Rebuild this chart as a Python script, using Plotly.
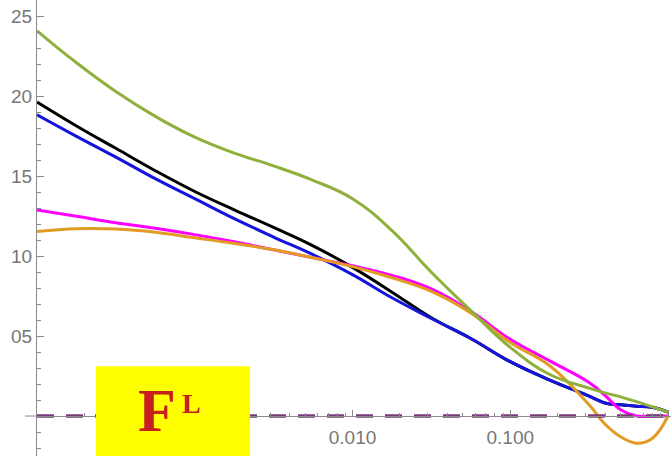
import plotly.graph_objects as go

# x positions (log axis)
X = [0.0001, 0.000178, 0.000316, 0.000562, 0.001, 0.00178, 0.00316, 0.00562,
     0.01, 0.0178, 0.0316, 0.0562, 0.1, 0.178, 0.316, 0.398, 0.501, 0.631, 0.794, 1.0]

green = [24.1, 22.1, 20.3, 18.75, 17.45, 16.45, 15.65, 14.75, 13.6, 11.6, 9.0, 6.6, 4.3, 2.6,
         1.75, 1.45, 1.2, 0.9, 0.58, 0.25]
black = [19.65, 18.15, 16.75, 15.35, 14.05, 12.9, 11.8, 10.65, 9.3, 7.75, 6.15, 4.85, 3.4, 2.25,
         1.25, 0.82, 0.7, 0.62, 0.55, 0.25]
blue = [18.85, 17.5, 16.2, 14.85, 13.6, 12.35, 11.2, 10.1, 8.85, 7.4, 6.1, 4.85, 3.4, 2.25,
        1.25, 0.82, 0.7, 0.62, 0.55, 0.25]
magenta = [12.9, 12.5, 12.1, 11.75, 11.35, 10.9, 10.4, 9.9, 9.4, 8.8, 7.95, 6.55, 4.8, 3.45,
           2.1, 1.3, 0.4, 0.0, 0.0, 0.0]
orange = [11.55, 11.72, 11.7, 11.5, 11.15, 10.8, 10.4, 9.9, 9.35, 8.65, 7.8, 6.45, 4.6, 3.15,
          0.7, -0.5, -1.3, -1.7, -1.4, 0.0]

zero_x = [0.0001, 1.05]
zero_y = [0, 0]

y_ticks = [5, 10, 15, 20, 25]
y_ticktext = ["05", "10", "15", "20", "25"]
x_ticks = [0.01, 0.1, 1]
x_ticktext = ["0.010", "0.100", "1"]

fig = go.Figure()
series = [
    (black, "#000000"),
    (blue, "#1414dc"),
    (magenta, "#ff00ff"),
    (orange, "#e19c24"),
    (green, "#8fb03b"),
]
for ys, col in series:
    fig.add_trace(go.Scatter(x=X, y=ys, mode="lines",
                             line=dict(color=col, width=3, shape="spline", smoothing=1.2),
                             showlegend=False, hoverinfo="skip"))

fig.add_trace(go.Scatter(x=zero_x, y=zero_y, mode="lines",
                         line=dict(color="#7a3a7a", width=3.5, dash="17px,12px"),
                         showlegend=False, hoverinfo="skip"))

y_lo, y_hi = -2.5, 26.03
zero_pos = (0 - y_lo) / (y_hi - y_lo)

axis_grey = "#8a8a8a"
fig.update_layout(
    width=671, height=456,
    margin=dict(l=37, r=0, t=0, b=0),
    paper_bgcolor="white", plot_bgcolor="white",
    xaxis=dict(
        type="log", range=[-4, 0.019],
        anchor="free", position=zero_pos,
        showline=True, linecolor=axis_grey, linewidth=1,
        showgrid=False, zeroline=False,
        tickvals=x_ticks, ticktext=x_ticktext,
        ticks="inside", ticklen=6, tickcolor=axis_grey,
        ticklabelstandoff=4,
        minor=dict(ticks="inside", ticklen=3, tickcolor=axis_grey, dtick="D1", showgrid=False),
        tickfont=dict(family="Liberation Sans", size=19, color="#777777"),
    ),
    yaxis=dict(
        range=[y_lo, y_hi],
        showline=True, linecolor=axis_grey, linewidth=1,
        showgrid=False, zeroline=False,
        tickvals=y_ticks, ticktext=y_ticktext,
        ticks="inside", ticklen=7, tickcolor=axis_grey,
        minor=dict(ticks="inside", ticklen=4, tickcolor=axis_grey, dtick=1, showgrid=False),
        tickfont=dict(family="Liberation Sans", size=19, color="#777777"),
    ),
    shapes=[
        dict(type="line", xref="paper", yref="y", x0=-0.019, x1=0, y0=0, y1=0,
             line=dict(color=axis_grey, width=1)),
        dict(type="rect", xref="paper", yref="paper", x0=0.093, x1=0.336, y0=0, y1=0.197,
             fillcolor="#ffff00", line=dict(width=0), layer="above"),
    ],
    annotations=[
        dict(text="<b>F</b>", xref="paper", yref="paper", x=0.190, y=0.101,
             xanchor="center", yanchor="middle", showarrow=False,
             font=dict(family="Liberation Serif", size=62, color="#c8201e")),
        dict(text="<b>L</b>", xref="paper", yref="paper", x=0.2437, y=0.116,
             xanchor="center", yanchor="middle", showarrow=False,
             font=dict(family="Liberation Serif", size=28, color="#c8201e")),
    ],
)

fig.write_html("out.html")
